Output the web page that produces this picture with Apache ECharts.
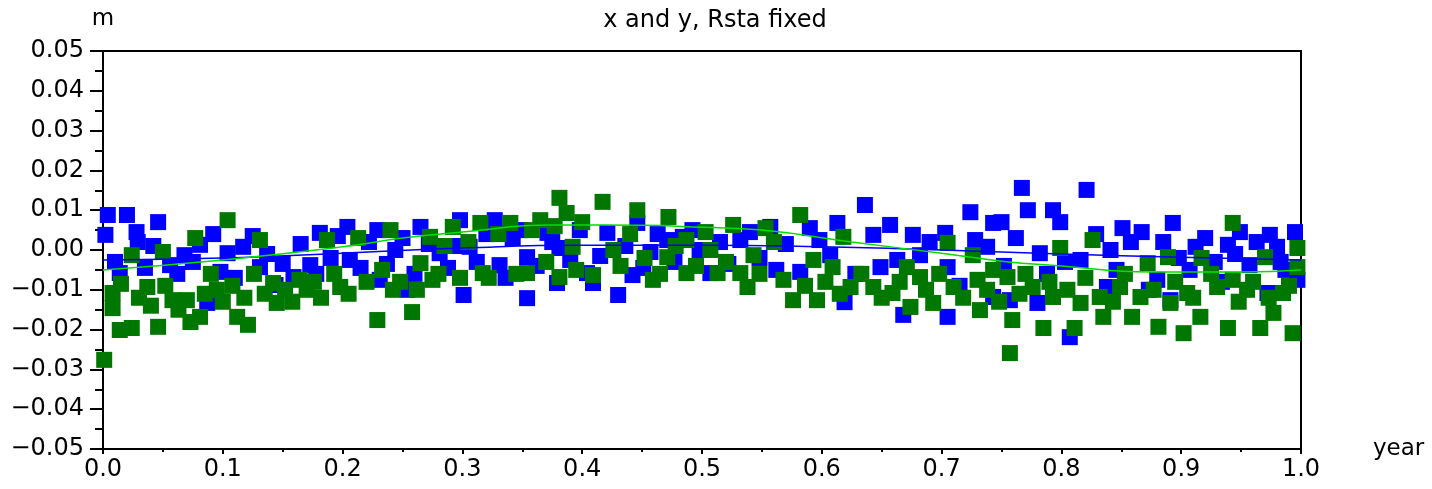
<!DOCTYPE html>
<html>
<head>
<meta charset="utf-8">
<script src="https://cdn.jsdelivr.net/npm/echarts@6/dist/echarts.min.js"></script>
<style>
  html, body { margin: 0; padding: 0; background: #fff; }
  #chart { width: 1432px; height: 489px; }
</style>
</head>
<body>
<div id="chart"></div>
<script>
// x (year) / y (m) samples
const bluePoints = [
  [0.002, 0.0038], [0.004, 0.0088], [0.020, 0.0088], [0.028, 0.0045], [0.046, 0.0070],
  [0.014, -0.0058], [0.029, 0.0020], [0.056, -0.0038], [0.068, -0.0013], [0.081, 0.0013],
  [0.087, -0.0133], [0.104, -0.0008], [0.117, 0.0008], [0.131, -0.0043], [0.144, -0.0088],
  [0.159, -0.0068], [0.173, -0.0038], [0.181, 0.0043], [0.204, 0.0058], [0.206, -0.0025],
  [0.229, 0.0050], [0.231, -0.0075], [0.244, 0.0000], [0.254, -0.0100], [0.265, 0.0058],
  [0.281, -0.0008], [0.298, 0.0075], [0.301, -0.0113], [0.306, 0.0008], [0.327, 0.0075],
  [0.331, -0.0038], [0.342, 0.0030], [0.354, -0.0018], [0.354, -0.0121], [0.371, 0.0043],
  [0.379, -0.0083], [0.381, 0.0005], [0.404, -0.0058], [0.409, -0.0083], [0.421, 0.0043],
  [0.430, -0.0113], [0.442, -0.0063], [0.446, 0.0068], [0.457, -0.0005], [0.471, 0.0025],
  [0.484, 0.0033], [0.498, 0.0000], [0.507, -0.0058], [0.532, 0.0025], [0.548, -0.0020],
  [0.557, 0.0058], [0.582, -0.0055], [0.590, 0.0055], [0.607, -0.0013], [0.613, 0.0068],
  [0.619, -0.0131], [0.636, 0.0113], [0.643, 0.0038], [0.649, -0.0043], [0.657, 0.0063],
  [0.668, -0.0163], [0.676, 0.0038], [0.682, -0.0013], [0.703, 0.0043], [0.705, -0.0043],
  [0.705, -0.0168], [0.724, 0.0095], [0.738, 0.0008], [0.743, 0.0068], [0.743, -0.0118],
  [0.750, 0.0070], [0.757, -0.0126], [0.767, 0.0156], [0.772, 0.0100], [0.780, -0.0133],
  [0.782, -0.0008], [0.793, 0.0100], [0.799, 0.0070], [0.807, -0.0219], [0.816, -0.0025],
  [0.821, 0.0151], [0.838, -0.0093], [0.841, 0.0000], [0.851, 0.0055], [0.867, 0.0045],
  [0.880, -0.0075], [0.885, 0.0020], [0.891, -0.0126], [0.893, 0.0068], [0.907, -0.0050],
  [0.912, 0.0008], [0.928, -0.0030], [0.939, 0.0013], [0.949, 0.0045], [0.957, -0.0038],
  [0.972, -0.0108], [0.974, 0.0038], [0.980, 0.0008], [0.987, -0.0050], [0.995, 0.0045],
  [0.997, -0.0075],
  [0.010, -0.0030], [0.035, -0.0045], [0.042, 0.0010], [0.062, -0.0060], [0.075, -0.0030],
  [0.092, 0.0040], [0.098, -0.0055], [0.110, -0.0070], [0.125, 0.0035], [0.137, -0.0010],
  [0.150, -0.0035], [0.165, 0.0015], [0.178, -0.0060], [0.190, -0.0020], [0.196, 0.0035],
  [0.215, -0.0045], [0.222, 0.0020], [0.237, -0.0035], [0.250, 0.0030], [0.260, -0.0060],
  [0.272, 0.0015], [0.288, -0.0045], [0.295, 0.0010], [0.312, -0.0030], [0.320, 0.0040],
  [0.336, -0.0070], [0.348, 0.0050], [0.362, -0.0040], [0.375, 0.0020], [0.390, -0.0025],
  [0.398, 0.0050], [0.415, -0.0015], [0.436, 0.0010], [0.451, -0.0045], [0.463, 0.0040],
  [0.477, -0.0030], [0.492, 0.0050], [0.515, 0.0020], [0.522, -0.0035], [0.540, 0.0045],
  [0.562, -0.0050], [0.570, 0.0015], [0.598, 0.0025], [0.628, -0.0060], [0.663, -0.0025],
  [0.690, 0.0020], [0.715, -0.0090], [0.728, 0.0025], [0.752, -0.0040], [0.762, 0.0030],
  [0.788, -0.0060], [0.803, -0.0030], [0.829, 0.0040], [0.846, -0.0050], [0.858, 0.0020],
  [0.873, -0.0100], [0.898, -0.0020], [0.920, 0.0030], [0.934, -0.0080], [0.945, -0.0010],
  [0.963, 0.0020], [0.983, -0.0030]
]

const greenPoints = [
  [0.001, -0.0276], [0.008, -0.0108], [0.008, -0.0146], [0.014, -0.0201], [0.024, -0.0196],
  [0.024, -0.0013], [0.037, -0.0093], [0.046, -0.0193], [0.050, -0.0005], [0.058, -0.0126],
  [0.070, -0.0126], [0.073, -0.0181], [0.077, 0.0030], [0.081, -0.0168], [0.095, -0.0100],
  [0.104, 0.0075], [0.112, -0.0168], [0.121, -0.0188], [0.131, 0.0025], [0.142, -0.0083],
  [0.145, -0.0133], [0.164, -0.0075], [0.170, -0.0100], [0.187, 0.0025], [0.198, -0.0093],
  [0.213, 0.0030], [0.229, -0.0176], [0.240, 0.0050], [0.242, -0.0100], [0.258, -0.0156],
  [0.265, -0.0033], [0.273, 0.0033], [0.275, -0.0075], [0.292, 0.0058], [0.315, 0.0068],
  [0.317, -0.0058], [0.340, 0.0068], [0.354, -0.0058], [0.365, 0.0075], [0.381, 0.0131],
  [0.381, -0.0068], [0.387, 0.0093], [0.392, 0.0008], [0.409, -0.0063], [0.417, 0.0121],
  [0.426, 0.0000], [0.446, 0.0100], [0.459, -0.0075], [0.471, -0.0018], [0.472, 0.0083],
  [0.487, 0.0025], [0.487, -0.0058], [0.503, 0.0045], [0.507, 0.0000], [0.513, -0.0058],
  [0.526, 0.0063], [0.532, -0.0058], [0.538, -0.0093], [0.543, -0.0013], [0.553, 0.0055],
  [0.568, -0.0075], [0.576, -0.0126], [0.582, 0.0088], [0.593, -0.0025], [0.596, -0.0126],
  [0.609, -0.0043], [0.618, 0.0033], [0.624, -0.0093], [0.643, -0.0093], [0.659, -0.0108],
  [0.671, -0.0043], [0.674, -0.0143], [0.682, -0.0068], [0.693, -0.0133], [0.705, 0.0018],
  [0.710, -0.0093], [0.726, -0.0013], [0.730, -0.0075], [0.732, -0.0151], [0.743, -0.0050],
  [0.755, -0.0068], [0.757, -0.0259], [0.759, -0.0176], [0.776, -0.0093], [0.785, -0.0196],
  [0.793, -0.0118], [0.799, 0.0005], [0.811, -0.0196], [0.816, -0.0133], [0.826, 0.0025],
  [0.832, -0.0118], [0.835, -0.0168], [0.849, -0.0093], [0.859, -0.0168], [0.866, -0.0118],
  [0.872, -0.0033], [0.881, -0.0193], [0.889, -0.0018], [0.891, -0.0133], [0.902, -0.0209],
  [0.905, -0.0108], [0.916, -0.0168], [0.917, -0.0020], [0.930, -0.0093], [0.939, -0.0196],
  [0.943, 0.0068], [0.943, -0.0075], [0.955, -0.0100], [0.966, -0.0196], [0.970, -0.0018],
  [0.977, -0.0158], [0.985, -0.0108], [0.993, -0.0209], [0.997, -0.0043], [0.997, 0.0005],
  [0.015, -0.0085], [0.030, -0.0120], [0.040, -0.0140], [0.052, -0.0090], [0.063, -0.0150],
  [0.085, -0.0110], [0.090, -0.0060], [0.100, -0.0130], [0.108, -0.0090], [0.118, -0.0120],
  [0.126, -0.0060], [0.135, -0.0110], [0.152, -0.0100], [0.158, -0.0130], [0.176, -0.0080],
  [0.182, -0.0120], [0.193, -0.0060], [0.205, -0.0110], [0.220, -0.0080], [0.233, -0.0050],
  [0.248, -0.0080], [0.262, -0.0100], [0.280, -0.0060], [0.285, 0.0010], [0.298, -0.0070],
  [0.305, 0.0020], [0.322, -0.0070], [0.330, 0.0040], [0.345, -0.0060], [0.358, 0.0050],
  [0.370, -0.0030], [0.377, 0.0060], [0.395, -0.0050], [0.400, 0.0070], [0.432, -0.0040],
  [0.440, 0.0040], [0.452, -0.0020], [0.465, -0.0060], [0.478, 0.0010], [0.495, -0.0040],
  [0.520, -0.0030], [0.548, -0.0060], [0.560, 0.0020], [0.586, -0.0090], [0.603, -0.0080],
  [0.615, -0.0110], [0.633, -0.0060], [0.650, -0.0120], [0.665, -0.0080], [0.687, -0.0100],
  [0.698, -0.0060], [0.718, -0.0120], [0.738, -0.0100], [0.748, -0.0130], [0.765, -0.0110],
  [0.770, -0.0060], [0.790, -0.0080], [0.805, -0.0100], [0.820, -0.0070], [0.843, -0.0130],
  [0.853, -0.0060], [0.877, -0.0100], [0.895, -0.0080], [0.910, -0.0120], [0.925, -0.0060],
  [0.948, -0.0130], [0.960, -0.0080], [0.973, -0.0120], [0.990, -0.0090]
]

// smoothed fits
const blueFit = [
  [0.0, -0.0025], [0.1, -0.0020], [0.2, -0.0008], [0.3, 0.0005], [0.4, 0.0012],
  [0.5, 0.0012], [0.6, 0.0008], [0.7, 0.0000], [0.8, -0.0010], [0.9, -0.0018], [1.0, -0.0025]
]
const greenFit = [
  [0.0, -0.0050], [0.1, -0.0025], [0.2, 0.0008], [0.25, 0.0030], [0.3, 0.0045],
  [0.375, 0.0063], [0.45, 0.0062], [0.5, 0.0057], [0.55, 0.0050], [0.625, 0.0020],
  [0.7, -0.0008], [0.75, -0.0028], [0.8, -0.0040], [0.875, -0.0055], [0.95, -0.0055], [1.0, -0.0050]
]

const FONT = '"DejaVu Sans", Verdana, sans-serif'

const chart = echarts.init(document.getElementById('chart'))
chart.setOption({
  animation: false,
  backgroundColor: '#fff',
  title: {
    text: 'x and y, Rsta fixed',
    left: 710,
    textAlign: 'center',
    top: 4,
    textStyle: { fontFamily: FONT, fontSize: 24, fontWeight: 'normal', color: '#000' }
  },
  grid: {
    left: 103, right: 131, top: 51, bottom: 40,
    show: true, borderColor: '#000', borderWidth: 2, backgroundColor: 'transparent'
  },
  xAxis: {
    type: 'value',
    min: 0, max: 1, interval: 0.1,
    name: 'year',
    nameLocation: 'end',
    nameGap: 72,
    nameTextStyle: { fontFamily: FONT, fontSize: 23, color: '#000', verticalAlign: 'middle' },
    axisLine: { show: true, onZero: false, lineStyle: { color: '#000', width: 2 } },
    axisTick: { show: true, length: 5, lineStyle: { color: '#000', width: 2 } },
    minorTick: { show: true, splitNumber: 2, length: 3, lineStyle: { color: '#000', width: 2 } },
    splitLine: { show: false },
    axisLabel: {
      fontFamily: FONT, fontSize: 24, color: '#000', margin: 9,
      formatter: v => v.toFixed(1)
    }
  },
  yAxis: {
    type: 'value',
    min: -0.05, max: 0.05, interval: 0.01,
    name: 'm',
    nameLocation: 'end',
    nameGap: 20,
    nameTextStyle: { fontFamily: FONT, fontSize: 23, color: '#000', align: 'center' },
    axisLine: { show: true, onZero: false, lineStyle: { color: '#000', width: 2 } },
    axisTick: { show: true, length: 13, lineStyle: { color: '#000', width: 2 } },
    minorTick: { show: true, splitNumber: 2, length: 8, lineStyle: { color: '#000', width: 2 } },
    splitLine: { show: false },
    axisLabel: {
      fontFamily: FONT, fontSize: 24, color: '#000', margin: 19,
      formatter: v => (v < 0 ? '\u2212' : '') + Math.abs(v).toFixed(2)
    }
  },
  series: [
    {
      name: 'x', type: 'scatter', data: bluePoints,
      symbol: 'rect', symbolSize: 16,
      itemStyle: { color: '#0000ff', opacity: 1 }, z: 2
    },
    {
      name: 'y', type: 'scatter', data: greenPoints,
      symbol: 'rect', symbolSize: 16,
      itemStyle: { color: '#007700', opacity: 1 }, z: 3
    },
    {
      name: 'x fit', type: 'line', data: blueFit, smooth: true,
      showSymbol: false, lineStyle: { color: '#0000ff', width: 1.5 }, z: 4
    },
    {
      name: 'y fit', type: 'line', data: greenFit, smooth: true,
      showSymbol: false, lineStyle: { color: '#00dd00', width: 1.5 }, z: 5
    }
  ]
})
</script>
</body>
</html>
